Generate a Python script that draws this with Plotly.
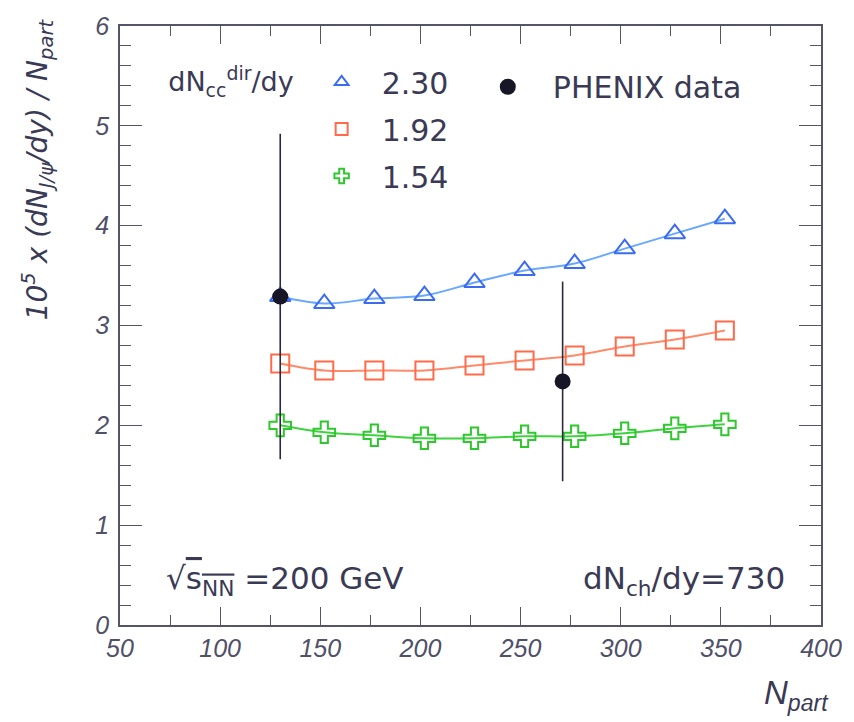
import plotly.graph_objects as go

# Number of participants for the model points
n_part = [130, 152, 177, 202, 227, 252, 277, 302, 327, 352]

# J/psi yield per participant (x 1e5) for three open-charm rapidity densities
yield_230 = [3.29, 3.22, 3.27, 3.30, 3.43, 3.55, 3.62, 3.77, 3.92, 4.07]
yield_192 = [2.62, 2.55, 2.55, 2.55, 2.60, 2.65, 2.70, 2.79, 2.86, 2.95]
yield_154 = [2.00, 1.93, 1.90, 1.87, 1.87, 1.89, 1.89, 1.92, 1.97, 2.01]

# PHENIX measurements
phenix_npart = [130, 271]
phenix_yield = [3.29, 2.44]
phenix_err = [1.63, 1.0]

series = [
    ("2.30", yield_230, "triangle-up-open", "#3b6cf0", "#6aa8ff"),
    ("1.92", yield_192, "square-open", "#ff6a4a", "#ff8a6a"),
    ("1.54", yield_154, "cross-open", "#2ec82e", "#3fd23f"),
]

SANS = "Liberation Sans, Arial, sans-serif"
WIDE = "DejaVu Sans, sans-serif"
TXT = "#3a3a55"

fig = go.Figure()

for name, ys, sym, mcol, lcol in series:
    fig.add_trace(go.Scatter(
        x=n_part, y=ys, mode="lines", line=dict(color=lcol, width=2, shape="spline"),
        showlegend=False, hoverinfo="skip"))
    fig.add_trace(go.Scatter(
        x=n_part, y=ys, mode="markers", name=name, legend="legend",
        legendgroup=name,
        marker=dict(symbol=sym, size=18, color=mcol, line=dict(width=2, color=mcol))))

fig.add_trace(go.Scatter(
    x=phenix_npart, y=phenix_yield, mode="markers", name="PHENIX data",
    legend="legend2",
    marker=dict(symbol="circle", size=16, color="#161626"),
    error_y=dict(type="data", array=phenix_err, color="#2a2a3a", thickness=1.6, width=0)))

axis_common = dict(
    showline=True, linecolor="#55556a", linewidth=1.5, mirror="ticks",
    ticks="inside", tickcolor="#55556a", showgrid=False, zeroline=False,
    ticklabeloverflow="allow",
    tickfont=dict(family=SANS, size=25, color="#505068", style="italic"),
)

fig.update_xaxes(
    range=[50, 400], tick0=50, dtick=50, ticklen=18, tickwidth=1.2,
    minor=dict(ticks="inside", dtick=25, ticklen=10, tickcolor="#55556a", tickwidth=1.2),
    **axis_common)
fig.update_yaxes(
    range=[0, 6], tick0=0, dtick=1, ticklen=22, tickwidth=1.2, ticklabelstandoff=4,
    minor=dict(ticks="inside", dtick=0.2, ticklen=11, tickcolor="#55556a", tickwidth=1.2),
    **axis_common)

fig.update_layout(
    width=854, height=722,
    margin=dict(l=120, r=19, t=22, b=97),
    paper_bgcolor="white", plot_bgcolor="white",
    font=dict(family=WIDE, color=TXT),
    legend=dict(
        x=0.066, y=0.95, xanchor="left", yanchor="top",
        bgcolor="rgba(0,0,0,0)", font=dict(size=30, family=WIDE, color=TXT),
        title=dict(text="dN<sub>cc</sub><sup>dir</sup>/dy", side="left",
                   font=dict(size=27, family=WIDE, color=TXT)),
        tracegroupgap=5, itemwidth=70, itemsizing="constant"),
    legend2=dict(
        x=0.489, y=0.942, xanchor="left", yanchor="top",
        bgcolor="rgba(0,0,0,0)", font=dict(size=30, family=WIDE, color=TXT),
        itemwidth=80),
    annotations=[
        dict(text="√<span style='text-decoration:overline'>s<sub>NN</sub></span> =200 GeV",
             xref="paper", yref="paper", x=0.063, y=0.075, xanchor="left", yanchor="middle",
             showarrow=False, font=dict(size=31, family=WIDE, color=TXT)),
        dict(text="dN<sub>ch</sub>/dy=730",
             xref="paper", yref="paper", x=0.952, y=0.075, xanchor="right", yanchor="middle",
             showarrow=False, font=dict(size=31, family=WIDE, color=TXT)),
        dict(text="<i>10<sup>5</sup> x (dN<sub>J/ψ</sub>/dy) / N<sub>part</sub></i>",
             xref="paper", yref="paper", x=-0.118, y=1.0, xanchor="center", yanchor="top",
             yshift=10, textangle=-90, showarrow=False,
             font=dict(size=28, family=WIDE, color=TXT)),
        dict(text="<i>N<sub>part</sub></i>",
             xref="paper", yref="paper", x=0.965, y=-0.078, xanchor="center", yanchor="top",
             showarrow=False, font=dict(size=33, family=SANS, color=TXT)),
    ],
)

fig.write_html("out.html")
